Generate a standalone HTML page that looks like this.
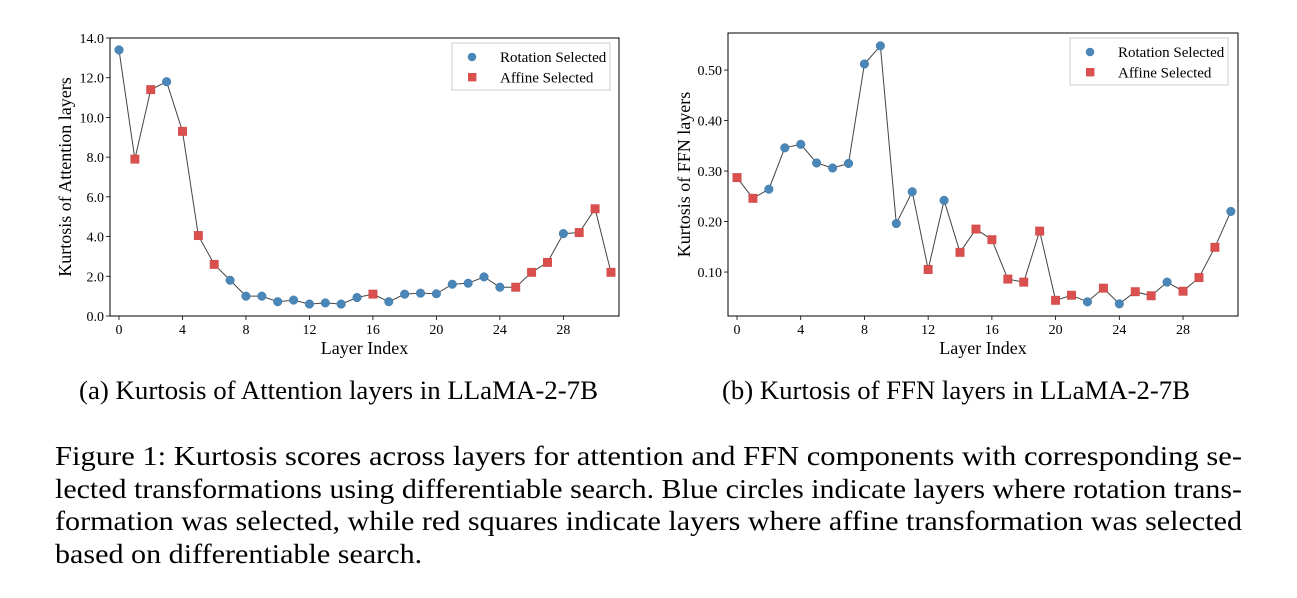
<!DOCTYPE html>
<html><head><meta charset="utf-8">
<style>
body{margin:0;width:1297px;height:598px;background:#fff;overflow:hidden;font-family:"Liberation Serif",serif;position:relative}
svg{position:absolute;left:0;top:0}
.cap{position:absolute;font-size:26px;color:#000;white-space:nowrap;transform-origin:0 50%}
.fig{position:absolute;left:55px;width:1187px;font-size:27px;line-height:32.5px;top:440px}
.fig div{white-space:nowrap;height:32.5px}
.fig span{display:inline-block;transform-origin:0 50%}
</style></head><body>
<svg id="chart" width="1297" height="380"></svg>
<div class="cap" id="capa" style="left:79px;top:376px">(a) Kurtosis of Attention layers in LLaMA-2-7B</div>
<div class="cap" id="capb" style="left:722px;top:376px">(b) Kurtosis of FFN layers in LLaMA-2-7B</div>
<div class="fig">
<div><span>Figure 1: Kurtosis scores across layers for attention and FFN components with corresponding se-</span></div>
<div><span>lected transformations using differentiable search. Blue circles indicate layers where rotation trans-</span></div>
<div><span>formation was selected, while red squares indicate layers where affine transformation was selected</span></div>
<div><span id="lastline">based on differentiable search.</span></div>
</div>
<script>
const layers = [];
for (let i = 0; i < 32; i++) layers.push(i);
const attnValues = [13.4,7.9,11.4,11.8,9.3,4.05,2.6,1.8,1.0,1.0,0.72,0.8,0.6,0.66,0.6,0.93,1.1,0.72,1.1,1.15,1.12,1.6,1.65,1.97,1.45,1.45,2.2,2.7,4.15,4.2,5.4,2.2];
const attnSel = ['R','A','A','R','A','A','A','R','R','R','R','R','R','R','R','R','A','R','R','R','R','R','R','R','R','A','A','A','R','A','A','A'];
const ffnValues = [0.287,0.246,0.264,0.346,0.353,0.316,0.306,0.315,0.512,0.548,0.196,0.259,0.105,0.242,0.139,0.185,0.164,0.086,0.080,0.181,0.044,0.054,0.041,0.068,0.037,0.061,0.053,0.080,0.062,0.089,0.149,0.220];
const ffnSel = ['A','A','R','R','R','R','R','R','R','R','R','R','A','R','A','A','A','A','A','A','A','A','R','A','R','A','A','R','A','A','A','R'];
const xTicks = [0,4,8,12,16,20,24,28];
const attnYTicks = [0,2,4,6,8,10,12,14];
const attnYLabels = ['0.0','2.0','4.0','6.0','8.0','10.0','12.0','14.0'];
const ffnYTicks = [0.1,0.2,0.3,0.4,0.5];
const ffnYLabels = ['0.10','0.20','0.30','0.40','0.50'];

const svg = document.getElementById('chart');
const NS = 'http://www.w3.org/2000/svg';
function mk(tag, attrs, parent){const e=document.createElementNS(NS,tag);for(const k in attrs)e.setAttribute(k,attrs[k]);(parent||svg).appendChild(e);return e;}

function drawChart(o){
  const g = mk('g',{});
  
  
  const sx = v => o.x0 + v * o.xs;
  const sy = v => o.yb - (v - o.ymin) / (o.ymax - o.ymin) * (o.yb - o.yt);
  o.yTicks.forEach((t,i)=>{
    const y = sy(t);
    const l = mk('line',{x1:o.L-4,x2:o.L,y1:y,y2:y,stroke:'#000','stroke-width':0.8},g);
    
    
    const tx = mk('text',{x:o.L-6,y:y+5,'text-anchor':'end','font-size':14,'font-family':'Liberation Serif, serif'},g);
    tx.textContent = o.yLabels[i];
    
    
  });
  xTicks.forEach(t=>{
    const x = sx(t);
    const l = mk('line',{x1:x,x2:x,y1:o.B,y2:o.B+4,stroke:'#000','stroke-width':0.8},g);
    
    
    const tx = mk('text',{x:x,y:o.B+18,'text-anchor':'middle','font-size':14,'font-family':'Liberation Serif, serif'},g);
    tx.textContent = t;
    
    
  });
  const pts = layers.map((l,i)=>sx(l)+','+sy(o.vals[i])).join(' ');
  const pl = mk('polyline',{points:pts,fill:'none',stroke:'#444','stroke-width':1},g);
  
  
  layers.forEach((l,i)=>{
    const x=sx(l), y=sy(o.vals[i]);
    let m;
    if (o.sel[i]==='R'){ m = mk('circle',{cx:x,cy:y,r:4.3,fill:'#4a87b8',stroke:'#3c77a6','stroke-width':0.5},g);
       }
    else { m = mk('rect',{x:x-4.2,y:y-4.2,width:8.4,height:8.4,fill:'#d9504f',stroke:'#c44','stroke-width':0.5},g);
       }
    
  });
  const fr = mk('rect',{x:o.L,y:o.T,width:o.R-o.L,height:o.B-o.T,fill:'none',stroke:'#000','stroke-width':1},g);
  
  
  const xl = mk('text',{x:(o.L+o.R)/2,y:o.B+38,'text-anchor':'middle','font-size':18,'font-family':'Liberation Serif, serif'},g);
  xl.textContent='Layer Index';
  
  
  const yl = mk('text',{x:0,y:0,'text-anchor':'middle','font-size':18,'font-family':'Liberation Serif, serif',transform:`translate(${o.ylx},${(o.T+o.B)/2}) rotate(-90)`},g);
  yl.textContent=o.ytitle;
  
  
  const lg = mk('g',{},g);
  
  
  mk('rect',{x:o.lgx,y:o.lgy,width:158,height:47,fill:'#fff',stroke:'#ccc','stroke-width':1},lg);
  const c = mk('circle',{cx:o.lgx+20,cy:o.lgy+14,r:4.3,fill:'#4a87b8'},lg);
  
  
  const t1 = mk('text',{x:o.lgx+48,y:o.lgy+19,'font-size':15,'font-family':'Liberation Serif, serif'},lg);
  t1.textContent='Rotation Selected';
  
  
  const r = mk('rect',{x:o.lgx+16,y:o.lgy+30,width:8.4,height:8.4,fill:'#d9504f'},lg);
  
  
  const t2 = mk('text',{x:o.lgx+48,y:o.lgy+39.5,'font-size':15,'font-family':'Liberation Serif, serif'},lg);
  t2.textContent='Affine Selected';
  
  
}

drawChart({name:'attention-chart',L:110,R:619,T:38,B:316,x0:119,xs:15.87,ymin:0,ymax:14,yt:38,yb:316,
  yTicks:attnYTicks,yLabels:attnYLabels,vals:attnValues,sel:attnSel,ytitle:'Kurtosis of Attention layers',ylx:71,lgx:452,lgy:43});
drawChart({name:'ffn-chart',L:728,R:1238,T:33,B:316,x0:737,xs:15.93,ymin:0.0129,ymax:0.5734,yt:33,yb:316,
  yTicks:ffnYTicks,yLabels:ffnYLabels,vals:ffnValues,sel:ffnSel,ytitle:'Kurtosis of FFN layers',ylx:690,lgx:1070,lgy:38});

// fit caption widths
function fit(el, w){const n=el.getBoundingClientRect().width; el.style.transform='scaleX('+(w/n)+')'; return w/n;}
fit(document.getElementById('capa'), 519);
fit(document.getElementById('capb'), 468);
const spans = document.querySelectorAll('.fig span');
let s = 1;
for (let i=0;i<3;i++) s = fit(spans[i], 1187);
document.getElementById('lastline').style.transform='scaleX('+s+')';
</script>
</body></html>
